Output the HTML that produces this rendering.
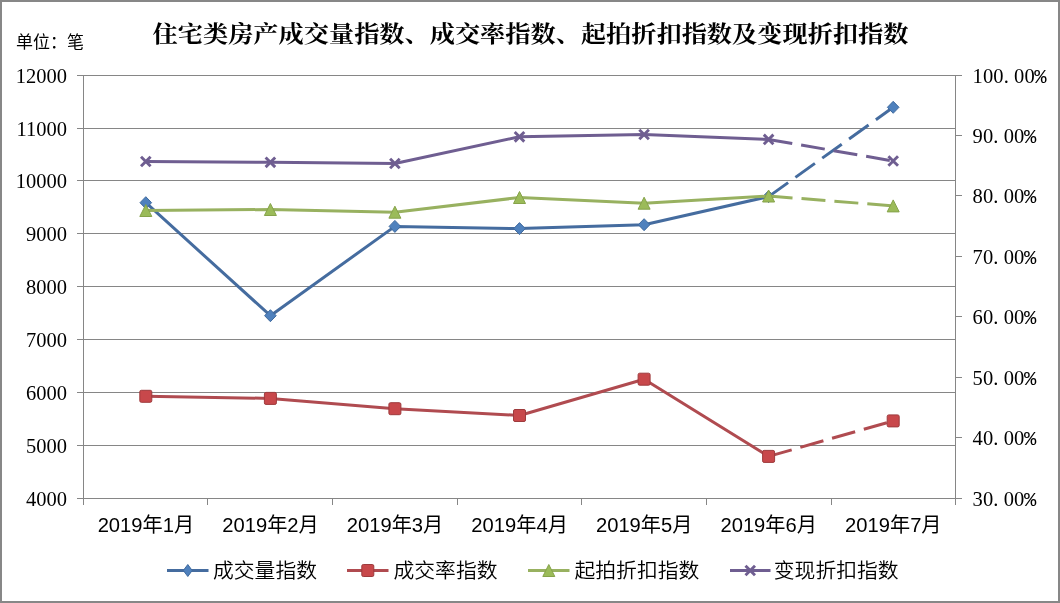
<!DOCTYPE html><html><head><meta charset="utf-8"><title>住宅类房产成交量指数、成交率指数、起拍折扣指数及变现折扣指数</title><style>
html,body{margin:0;padding:0;background:#fff;}
.wrap{position:relative;width:1060px;height:603px;overflow:hidden;background:#fff;}
svg{display:block;}
.ttl{font-family:"Liberation Serif","Noto Serif CJK SC",serif;font-weight:bold;font-size:25.2px;fill:#000;}
.unit{font-family:"Liberation Sans","Noto Sans CJK SC",sans-serif;font-size:17px;fill:#000;}
.yl{font-family:"Liberation Serif","Noto Serif CJK SC",serif;font-size:20.5px;fill:#000;}
.yr{font-family:"Liberation Serif","Noto Serif CJK SC",serif;font-size:20.5px;fill:#000;}
.pct{font-family:"Liberation Mono",monospace;}
.xl{font-family:"Liberation Sans","Noto Sans CJK SC",sans-serif;font-size:20px;fill:#000;}
.lg{font-family:"Liberation Sans","Noto Sans CJK SC",sans-serif;font-size:20.8px;font-weight:350;fill:#000;}
</style></head><body><div class="wrap">
<svg width="1060" height="603" viewBox="0 0 1060 603">
<rect x="0" y="0" width="1060" height="603" fill="#fff"/>
<rect x="1" y="1" width="1058" height="601" fill="none" stroke="#878787" stroke-width="2"/>
<text class="ttl" x="530.5" y="42" text-anchor="middle" transform="translate(0,42) scale(1,0.9) translate(0,-42)">住宅类房产成交量指数、成交率指数、起拍折扣指数及变现折扣指数</text>
<text class="unit" x="16" y="47.8">单位：笔</text>
<line x1="77" y1="75.5" x2="956" y2="75.5" stroke="#868686" stroke-width="1"/>
<line x1="77" y1="128.5" x2="956" y2="128.5" stroke="#868686" stroke-width="1"/>
<line x1="77" y1="180.5" x2="956" y2="180.5" stroke="#868686" stroke-width="1"/>
<line x1="77" y1="233.5" x2="956" y2="233.5" stroke="#868686" stroke-width="1"/>
<line x1="77" y1="286.5" x2="956" y2="286.5" stroke="#868686" stroke-width="1"/>
<line x1="77" y1="339.5" x2="956" y2="339.5" stroke="#868686" stroke-width="1"/>
<line x1="77" y1="392.5" x2="956" y2="392.5" stroke="#868686" stroke-width="1"/>
<line x1="77" y1="445.5" x2="956" y2="445.5" stroke="#868686" stroke-width="1"/>
<line x1="77" y1="498.5" x2="956" y2="498.5" stroke="#868686" stroke-width="1"/>
<line x1="83.5" y1="75" x2="83.5" y2="505" stroke="#868686" stroke-width="1"/>
<line x1="955.5" y1="75" x2="955.5" y2="505" stroke="#868686" stroke-width="1"/>
<line x1="955" y1="75.5" x2="962" y2="75.5" stroke="#868686" stroke-width="1"/>
<line x1="955" y1="135.5" x2="962" y2="135.5" stroke="#868686" stroke-width="1"/>
<line x1="955" y1="195.5" x2="962" y2="195.5" stroke="#868686" stroke-width="1"/>
<line x1="955" y1="256.5" x2="962" y2="256.5" stroke="#868686" stroke-width="1"/>
<line x1="955" y1="316.5" x2="962" y2="316.5" stroke="#868686" stroke-width="1"/>
<line x1="955" y1="377.5" x2="962" y2="377.5" stroke="#868686" stroke-width="1"/>
<line x1="955" y1="437.5" x2="962" y2="437.5" stroke="#868686" stroke-width="1"/>
<line x1="955" y1="498.5" x2="962" y2="498.5" stroke="#868686" stroke-width="1"/>
<line x1="207.5" y1="498" x2="207.5" y2="505" stroke="#868686" stroke-width="1"/>
<line x1="332.5" y1="498" x2="332.5" y2="505" stroke="#868686" stroke-width="1"/>
<line x1="457.5" y1="498" x2="457.5" y2="505" stroke="#868686" stroke-width="1"/>
<line x1="581.5" y1="498" x2="581.5" y2="505" stroke="#868686" stroke-width="1"/>
<line x1="706.5" y1="498" x2="706.5" y2="505" stroke="#868686" stroke-width="1"/>
<line x1="831.5" y1="498" x2="831.5" y2="505" stroke="#868686" stroke-width="1"/>
<text class="yl" x="67" y="82.8" text-anchor="end">12000</text>
<text class="yl" x="67" y="135.8" text-anchor="end">11000</text>
<text class="yl" x="67" y="187.8" text-anchor="end">10000</text>
<text class="yl" x="67" y="240.8" text-anchor="end">9000</text>
<text class="yl" x="67" y="293.8" text-anchor="end">8000</text>
<text class="yl" x="67" y="346.8" text-anchor="end">7000</text>
<text class="yl" x="67" y="399.8" text-anchor="end">6000</text>
<text class="yl" x="67" y="452.8" text-anchor="end">5000</text>
<text class="yl" x="67" y="505.8" text-anchor="end">4000</text>
<text class="yr" x="972.60 982.97 993.34 1003.71 1014.08 1024.45" y="83.4">100.00<tspan class="pct" x="1034.32">%</tspan></text>
<text class="yr" x="972.60 982.97 993.34 1003.71 1014.08" y="143.4">90.00<tspan class="pct" x="1023.95">%</tspan></text>
<text class="yr" x="972.60 982.97 993.34 1003.71 1014.08" y="203.4">80.00<tspan class="pct" x="1023.95">%</tspan></text>
<text class="yr" x="972.60 982.97 993.34 1003.71 1014.08" y="264.4">70.00<tspan class="pct" x="1023.95">%</tspan></text>
<text class="yr" x="972.60 982.97 993.34 1003.71 1014.08" y="324.4">60.00<tspan class="pct" x="1023.95">%</tspan></text>
<text class="yr" x="972.60 982.97 993.34 1003.71 1014.08" y="385.4">50.00<tspan class="pct" x="1023.95">%</tspan></text>
<text class="yr" x="972.60 982.97 993.34 1003.71 1014.08" y="445.4">40.00<tspan class="pct" x="1023.95">%</tspan></text>
<text class="yr" x="972.60 982.97 993.34 1003.71 1014.08" y="506.4">30.00<tspan class="pct" x="1023.95">%</tspan></text>
<text class="xl" x="145.9" y="532" text-anchor="middle" textLength="96.5" lengthAdjust="spacingAndGlyphs">2019年1月</text>
<text class="xl" x="270.5" y="532" text-anchor="middle" textLength="96.5" lengthAdjust="spacingAndGlyphs">2019年2月</text>
<text class="xl" x="395.0" y="532" text-anchor="middle" textLength="96.5" lengthAdjust="spacingAndGlyphs">2019年3月</text>
<text class="xl" x="519.6" y="532" text-anchor="middle" textLength="96.5" lengthAdjust="spacingAndGlyphs">2019年4月</text>
<text class="xl" x="644.2" y="532" text-anchor="middle" textLength="96.5" lengthAdjust="spacingAndGlyphs">2019年5月</text>
<text class="xl" x="768.7" y="532" text-anchor="middle" textLength="96.5" lengthAdjust="spacingAndGlyphs">2019年6月</text>
<text class="xl" x="893.3" y="532" text-anchor="middle" textLength="96.5" lengthAdjust="spacingAndGlyphs">2019年7月</text>
<path d="M145.8 202.7 L270.4 315.7 L394.9 226.4 L519.5 228.6 L644.1 224.7 L768.6 196.6" fill="none" stroke="#456c9f" stroke-width="3" stroke-linejoin="round" stroke-linecap="round"/>
<path d="M768.6 196.6 L893.2 107.3" fill="none" stroke="#456c9f" stroke-width="3" stroke-dasharray="24 9"/>
<path d="M145.8 196.7 L151.6 202.7 L145.8 208.7 L140.0 202.7Z" fill="#4f81bd" stroke="#3f6a9e" stroke-width="1"/>
<path d="M270.4 309.7 L276.2 315.7 L270.4 321.7 L264.6 315.7Z" fill="#4f81bd" stroke="#3f6a9e" stroke-width="1"/>
<path d="M394.9 220.4 L400.7 226.4 L394.9 232.4 L389.1 226.4Z" fill="#4f81bd" stroke="#3f6a9e" stroke-width="1"/>
<path d="M519.5 222.6 L525.3 228.6 L519.5 234.6 L513.7 228.6Z" fill="#4f81bd" stroke="#3f6a9e" stroke-width="1"/>
<path d="M644.1 218.7 L649.9 224.7 L644.1 230.7 L638.3 224.7Z" fill="#4f81bd" stroke="#3f6a9e" stroke-width="1"/>
<path d="M768.6 190.6 L774.4 196.6 L768.6 202.6 L762.8 196.6Z" fill="#4f81bd" stroke="#3f6a9e" stroke-width="1"/>
<path d="M893.2 101.3 L899.0 107.3 L893.2 113.3 L887.4 107.3Z" fill="#4f81bd" stroke="#3f6a9e" stroke-width="1"/>
<path d="M145.8 396.3 L270.4 398.4 L394.9 408.7 L519.5 415.5 L644.1 379.2 L768.6 456.4" fill="none" stroke="#b04b50" stroke-width="3" stroke-linejoin="round" stroke-linecap="round"/>
<path d="M768.6 456.4 L893.2 420.9" fill="none" stroke="#b04b50" stroke-width="3" stroke-dasharray="24 9"/>
<rect x="139.8" y="390.3" width="12.0" height="12.0" rx="1.5" fill="#c8484b" stroke="#9e3b3d" stroke-width="1"/>
<rect x="264.4" y="392.4" width="12.0" height="12.0" rx="1.5" fill="#c8484b" stroke="#9e3b3d" stroke-width="1"/>
<rect x="388.9" y="402.7" width="12.0" height="12.0" rx="1.5" fill="#c8484b" stroke="#9e3b3d" stroke-width="1"/>
<rect x="513.5" y="409.5" width="12.0" height="12.0" rx="1.5" fill="#c8484b" stroke="#9e3b3d" stroke-width="1"/>
<rect x="638.1" y="373.2" width="12.0" height="12.0" rx="1.5" fill="#c8484b" stroke="#9e3b3d" stroke-width="1"/>
<rect x="762.6" y="450.4" width="12.0" height="12.0" rx="1.5" fill="#c8484b" stroke="#9e3b3d" stroke-width="1"/>
<rect x="887.2" y="414.9" width="12.0" height="12.0" rx="1.5" fill="#c8484b" stroke="#9e3b3d" stroke-width="1"/>
<path d="M145.8 210.5 L270.4 209.5 L394.9 212.2 L519.5 197.5 L644.1 203.2 L768.6 196.0" fill="none" stroke="#98b160" stroke-width="3" stroke-linejoin="round" stroke-linecap="round"/>
<path d="M768.6 196.0 L893.2 205.9" fill="none" stroke="#98b160" stroke-width="3" stroke-dasharray="24 9"/>
<path d="M145.8 204.5 L151.8 216.5 L139.8 216.5Z" fill="#9bbb59" stroke="#86a34a" stroke-width="1" stroke-linejoin="round"/>
<path d="M270.4 203.5 L276.4 215.5 L264.4 215.5Z" fill="#9bbb59" stroke="#86a34a" stroke-width="1" stroke-linejoin="round"/>
<path d="M394.9 206.2 L400.9 218.2 L388.9 218.2Z" fill="#9bbb59" stroke="#86a34a" stroke-width="1" stroke-linejoin="round"/>
<path d="M519.5 191.5 L525.5 203.5 L513.5 203.5Z" fill="#9bbb59" stroke="#86a34a" stroke-width="1" stroke-linejoin="round"/>
<path d="M644.1 197.2 L650.1 209.2 L638.1 209.2Z" fill="#9bbb59" stroke="#86a34a" stroke-width="1" stroke-linejoin="round"/>
<path d="M768.6 190.0 L774.6 202.0 L762.6 202.0Z" fill="#9bbb59" stroke="#86a34a" stroke-width="1" stroke-linejoin="round"/>
<path d="M893.2 199.9 L899.2 211.9 L887.2 211.9Z" fill="#9bbb59" stroke="#86a34a" stroke-width="1" stroke-linejoin="round"/>
<path d="M145.8 161.5 L270.4 162.3 L394.9 163.5 L519.5 136.8 L644.1 134.5 L768.6 139.4" fill="none" stroke="#6f5e91" stroke-width="3" stroke-linejoin="round" stroke-linecap="round"/>
<path d="M768.6 139.4 L893.2 161.0" fill="none" stroke="#6f5e91" stroke-width="3" stroke-dasharray="24 9"/>
<path d="M141.0 156.7 L150.6 166.3 M150.6 156.7 L141.0 166.3" stroke="#6f5e91" stroke-width="2.9" stroke-linecap="butt"/>
<path d="M265.6 157.5 L275.2 167.1 M275.2 157.5 L265.6 167.1" stroke="#6f5e91" stroke-width="2.9" stroke-linecap="butt"/>
<path d="M390.1 158.7 L399.7 168.3 M399.7 158.7 L390.1 168.3" stroke="#6f5e91" stroke-width="2.9" stroke-linecap="butt"/>
<path d="M514.7 132.0 L524.3 141.6 M524.3 132.0 L514.7 141.6" stroke="#6f5e91" stroke-width="2.9" stroke-linecap="butt"/>
<path d="M639.3 129.7 L648.9 139.3 M648.9 129.7 L639.3 139.3" stroke="#6f5e91" stroke-width="2.9" stroke-linecap="butt"/>
<path d="M763.8 134.6 L773.4 144.2 M773.4 134.6 L763.8 144.2" stroke="#6f5e91" stroke-width="2.9" stroke-linecap="butt"/>
<path d="M888.4 156.2 L898.0 165.8 M898.0 156.2 L888.4 165.8" stroke="#6f5e91" stroke-width="2.9" stroke-linecap="butt"/>
<line x1="167" y1="570.5" x2="208.5" y2="570.5" stroke="#456c9f" stroke-width="3"/>
<path d="M187.8 564.5 L192.2 570.5 L187.8 576.5 L183.3 570.5Z" fill="#4f81bd" stroke="#3f6a9e" stroke-width="1"/>
<text class="lg" x="213" y="577.5">成交量指数</text>
<line x1="347" y1="570.5" x2="388.5" y2="570.5" stroke="#b04b50" stroke-width="3"/>
<rect x="361.8" y="564.5" width="12.0" height="12.0" rx="1.5" fill="#c8484b" stroke="#9e3b3d" stroke-width="1"/>
<text class="lg" x="393.5" y="577.5">成交率指数</text>
<line x1="528" y1="570.5" x2="569.5" y2="570.5" stroke="#98b160" stroke-width="3"/>
<path d="M548.8 564.5 L554.8 576.5 L542.8 576.5Z" fill="#9bbb59" stroke="#86a34a" stroke-width="1" stroke-linejoin="round"/>
<text class="lg" x="574.5" y="577.5">起拍折扣指数</text>
<line x1="730" y1="570.5" x2="770.5" y2="570.5" stroke="#6f5e91" stroke-width="3"/>
<path d="M745.5 565.7 L755.0 575.3 M755.0 565.7 L745.5 575.3" stroke="#6f5e91" stroke-width="2.9" stroke-linecap="butt"/>
<text class="lg" x="773.8" y="577.5">变现折扣指数</text>
</svg></div></body></html>
